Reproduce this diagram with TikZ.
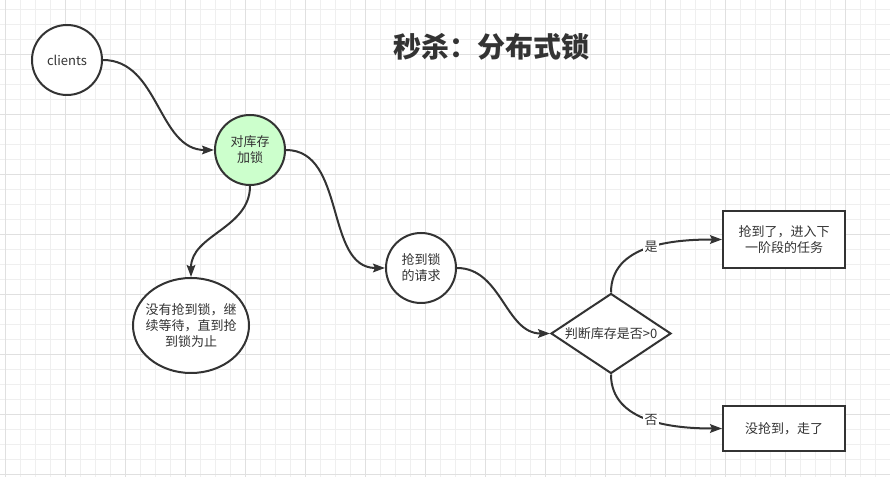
\documentclass[tikz,border=0pt]{standalone}
\usepackage{fontspec}
\setmainfont{Noto Sans CJK SC}
\usetikzlibrary{shapes.geometric,arrows.meta}
\definecolor{ink}{HTML}{333333}
\definecolor{gminor}{HTML}{EFEFEF}
\definecolor{gmajor}{HTML}{E0E0E0}
\definecolor{lockgreen}{HTML}{CCFFCC}
\begin{document}
\begin{tikzpicture}[x=0.75pt,y=-0.75pt,
  every node/.style={text=ink, font=\fontsize{9.75pt}{12pt}\selectfont, align=center},
  roundnode/.style={circle, draw=ink, fill=white, line width=1.5pt, minimum size=52.5pt, inner sep=0pt},
  ovalnode/.style={ellipse, draw=ink, fill=white, line width=1.5pt, minimum width=87pt, minimum height=71.25pt, inner xsep=-4pt, inner ysep=0pt},
  decnode/.style={diamond, aspect=1.5, draw=ink, fill=white, line width=1.5pt, minimum width=90pt, minimum height=60pt, inner sep=0pt},
  boxnode/.style={rectangle, draw=ink, fill=white, line width=1.5pt, minimum width=91.5pt, inner sep=0pt},
  conn/.style={draw=ink, line width=1.5pt, -{Stealth[length=9pt,width=6.5pt,inset=1.5pt]}},
  lbl/.style={fill=white, inner sep=1pt},
  gridminor/.style={draw=gminor, line width=0.75pt},
  gridmajor/.style={draw=gmajor, line width=0.75pt}
]
\useasboundingbox (0,0) rectangle (890,477);
\fill[white] (0,0) rectangle (890,477);
% grid
\foreach \x in {5,20,...,890} \draw[gridminor] (\x,0) -- (\x,477);
\foreach \y in {10,25,...,477} \draw[gridminor] (0,\y) -- (890,\y);
\foreach \x in {5,65,...,890} \draw[gridmajor] (\x,0) -- (\x,477);
\foreach \y in {55,115,...,477} \draw[gridmajor] (0,\y) -- (890,\y);

% title
\node (title) at (491,47) {\fontsize{21pt}{24pt}\selectfont\bfseries 秒杀：分布式锁};

% nodes
\node[roundnode] (clients) at (67,60) {clients};
\node[roundnode, fill=lockgreen] (lock) at (250,150) {对库存\\加锁};
\node[ovalnode] (wait) at (191,325.5) {没有抢到锁，继\\续等待，直到抢\\到锁为止};
\node[roundnode] (got) at (421,268) {抢到锁\\的请求};
\node[decnode] (dec) at (611,333.5) {判断库存是否>0};
\node[boxnode, minimum height=42.75pt] (next) at (784,239.5) {抢到了，进入下\\一阶段的任务};
\node[boxnode, minimum height=33.75pt] (leave) at (784,428.5) {没抢到，走了};

% connectors
\draw[conn] (clients.east) to[out=0,in=180] (lock.west);
\draw[conn] (lock.south) to[out=-90,in=90] (wait.north);
\draw[conn] (lock.east) to[out=0,in=180] (got.west);
\draw[conn] (got.east) to[out=0,in=180] (dec.west);
\draw[conn] (dec.north) to[out=90,in=180] node[lbl,pos=0.52] (yes) {是} (next.west);
\draw[conn] (dec.south) to[out=-90,in=180] node[lbl,pos=0.52] (no) {否} (leave.west);
\end{tikzpicture}
\end{document}
